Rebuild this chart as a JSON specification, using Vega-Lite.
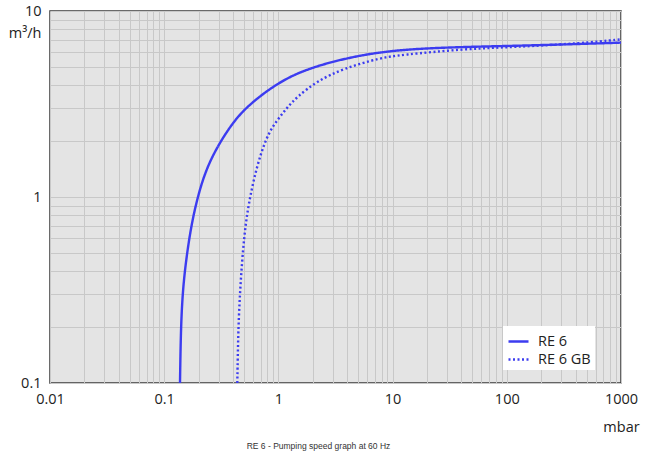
{
  "$schema": "https://vega.github.io/schema/vega-lite/v6.json",
  "autosize": "none",
  "width": 571,
  "height": 372,
  "padding": {"left": 50, "top": 11, "right": 26, "bottom": 72},
  "background": "white",
  "config": {
    "view": {"fill": "#e4e4e4", "stroke": "#3a3a3a", "strokeWidth": 1.5},
    "font": "Open Sans"
  },
  "title": {
    "text": "RE 6 - Pumping speed graph at 60 Hz",
    "orient": "bottom",
    "anchor": "middle",
    "font": "Liberation Sans",
    "fontSize": 8.5,
    "fontWeight": "normal",
    "color": "#333333",
    "dx": -17,
    "offset": 8
  },
  "data": {
    "values": [
      {"series": "RE 6", "p": 0.1375, "s": 0.1},
      {"series": "RE 6", "p": 0.1397, "s": 0.1857},
      {"series": "RE 6", "p": 0.1438, "s": 0.2794},
      {"series": "RE 6", "p": 0.1506, "s": 0.3903},
      {"series": "RE 6", "p": 0.1632, "s": 0.5658},
      {"series": "RE 6", "p": 0.1769, "s": 0.7522},
      {"series": "RE 6", "p": 0.1937, "s": 0.9636},
      {"series": "RE 6", "p": 0.2208, "s": 1.281},
      {"series": "RE 6", "p": 0.2703, "s": 1.724},
      {"series": "RE 6", "p": 0.3925, "s": 2.498},
      {"series": "RE 6", "p": 0.5527, "s": 3.143},
      {"series": "RE 6", "p": 0.975, "s": 4.09},
      {"series": "RE 6", "p": 1.67, "s": 4.82},
      {"series": "RE 6", "p": 3.74, "s": 5.57},
      {"series": "RE 6", "p": 11.7, "s": 6.3},
      {"series": "RE 6", "p": 101, "s": 6.48},
      {"series": "RE 6", "p": 446, "s": 6.65},
      {"series": "RE 6", "p": 1000, "s": 6.76},
      {"series": "RE 6 GB", "p": 0.4366, "s": 0.1},
      {"series": "RE 6 GB", "p": 0.4446, "s": 0.1857},
      {"series": "RE 6 GB", "p": 0.4573, "s": 0.2794},
      {"series": "RE 6 GB", "p": 0.4763, "s": 0.4204},
      {"series": "RE 6 GB", "p": 0.5049, "s": 0.6402},
      {"series": "RE 6 GB", "p": 0.5472, "s": 0.917},
      {"series": "RE 6 GB", "p": 0.6429, "s": 1.449},
      {"series": "RE 6 GB", "p": 0.7867, "s": 2.102},
      {"series": "RE 6 GB", "p": 0.9337, "s": 2.498},
      {"series": "RE 6 GB", "p": 1.182, "s": 3.01},
      {"series": "RE 6 GB", "p": 1.46, "s": 3.46},
      {"series": "RE 6 GB", "p": 2.18, "s": 4.2},
      {"series": "RE 6 GB", "p": 3.74, "s": 4.92},
      {"series": "RE 6 GB", "p": 7.85, "s": 5.6},
      {"series": "RE 6 GB", "p": 11.7, "s": 5.8},
      {"series": "RE 6 GB", "p": 42, "s": 6.25},
      {"series": "RE 6 GB", "p": 115, "s": 6.4},
      {"series": "RE 6 GB", "p": 446, "s": 6.7},
      {"series": "RE 6 GB", "p": 1000, "s": 7.04}
    ]
  },
  "mark": {"type": "line", "interpolate": "basis", "strokeWidth": 2.4, "color": "#3c3cf0", "clip": true},
  "encoding": {
    "x": {
      "field": "p",
      "type": "quantitative",
      "scale": {"type": "log", "domain": [0.01, 1000], "nice": false},
      "axis": {
        "values": [0.01,0.02,0.03,0.04,0.05,0.06,0.07,0.08,0.09,0.1,0.2,0.3,0.4,0.5,0.6,0.7,0.8,0.9,1,2,3,4,5,6,7,8,9,10,20,30,40,50,60,70,80,90,100,200,300,400,500,600,700,800,900,1000],
        "labelExpr": "datum.value==0.01?'0.01':datum.value==0.1?'0.1':datum.value==1?'1':datum.value==10?'10':datum.value==100?'100':datum.value==1000?'1000':''",
        "ticks": false,
        "domain": false,
        "grid": true,
        "gridColor": "#c8c8c8",
        "gridWidth": 1,
        "labelFont": "Open Sans",
        "labelFontSize": 14.5,
        "labelColor": "#222222",
        "labelPadding": 9,
        "labelFlush": false,
        "labelOverlap": false,
        "title": "mbar",
        "titleFont": "Open Sans",
        "titleFontSize": 14.5,
        "titleFontWeight": "normal",
        "titleColor": "#222222",
        "titleX": 571,
        "titleY": 44,
        "titleAlign": "center",
        "titleBaseline": "middle"
      }
    },
    "y": {
      "field": "s",
      "type": "quantitative",
      "scale": {"type": "log", "domain": [0.1, 10], "nice": false},
      "axis": {
        "values": [0.1,0.2,0.3,0.4,0.5,0.6,0.7,0.8,0.9,1,2,3,4,5,6,7,8,9,10],
        "labelExpr": "datum.value==0.1?'0.1':datum.value==1?'1':datum.value==10?'10':''",
        "ticks": false,
        "domain": false,
        "grid": true,
        "gridColor": "#c8c8c8",
        "gridWidth": 1,
        "labelFont": "Open Sans",
        "labelFontSize": 14.5,
        "labelColor": "#222222",
        "labelPadding": 9,
        "labelFlush": false,
        "labelOverlap": false,
        "title": "m³/h",
        "titleFont": "Open Sans",
        "titleFontSize": 14.5,
        "titleFontWeight": "normal",
        "titleColor": "#222222",
        "titleAngle": 0,
        "titleX": -9,
        "titleY": 22,
        "titleAlign": "right",
        "titleBaseline": "middle"
      }
    },
    "strokeDash": {
      "field": "series",
      "type": "nominal",
      "scale": {"domain": ["RE 6", "RE 6 GB"], "range": [[1, 0], [2, 2.5]]},
      "legend": {
        "title": null,
        "orient": "none",
        "legendX": 453,
        "legendY": 315,
        "fillColor": "white",
        "padding": 4,
        "symbolType": "stroke",
        "symbolSize": 400,
        "symbolStrokeWidth": 2.4,
        "symbolStrokeColor": "#3c3cf0",
        "labelFont": "Open Sans",
        "labelFontSize": 14.5,
        "labelColor": "#222222",
        "labelOffset": 8,
        "rowPadding": 0
      }
    }
  }
}
